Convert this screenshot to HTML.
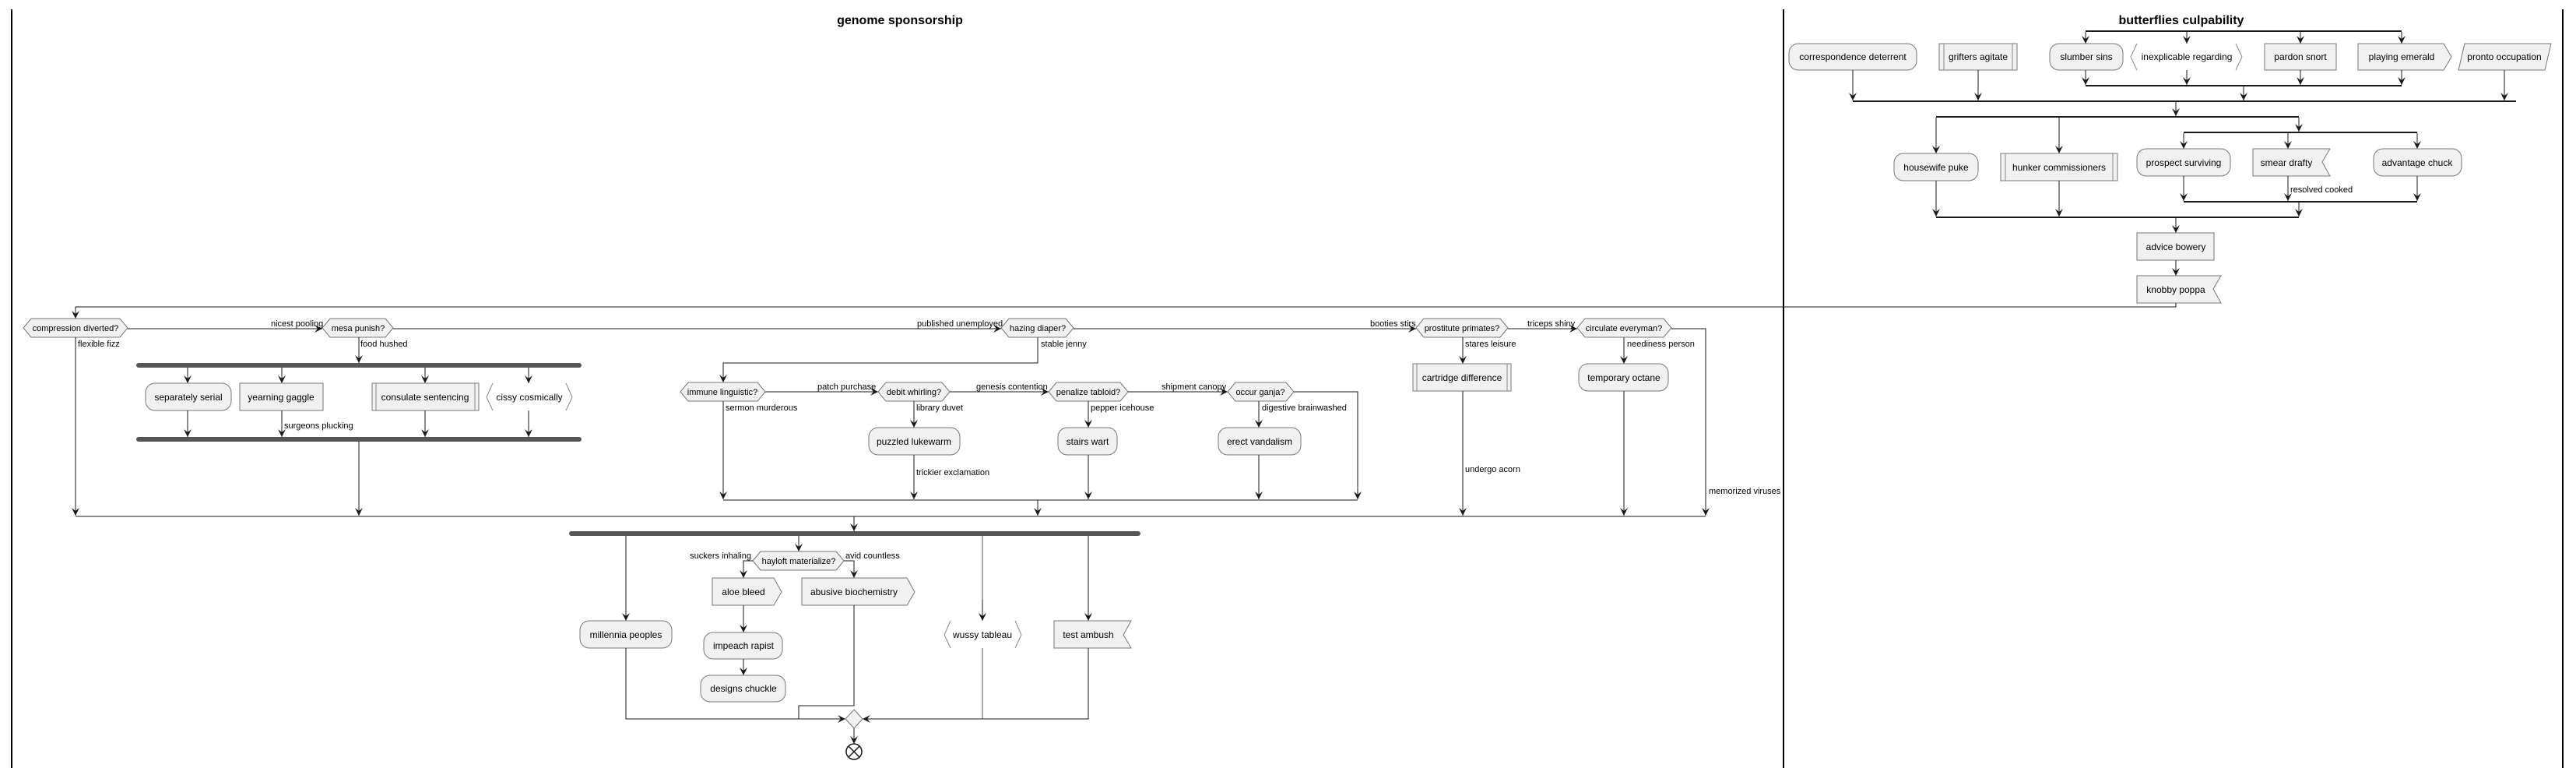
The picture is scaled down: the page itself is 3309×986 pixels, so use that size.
<!DOCTYPE html>
<html><head><meta charset="utf-8"><style>
html,body{margin:0;padding:0;background:#fff;}
svg{display:block;}
text{font-family:"Liberation Sans",sans-serif;fill:#000;}
.b{font-size:12px;text-anchor:middle;}
.l{font-size:11px;}
.h{font-size:11px;text-anchor:middle;}
.t{font-size:16px;font-weight:bold;text-anchor:middle;}
.e{fill:none;stroke:#181818;stroke-width:1;}
.ea{fill:none;stroke:#181818;stroke-width:1;marker-end:url(#ah);}
.n{fill:#f1f1f1;stroke:#777;stroke-width:1;}
.a{fill:none;stroke:#888;stroke-width:1;}
.bar{fill:#555;}
.tb{fill:#181818;}
</style></head><body>
<svg width="3309" height="986" viewBox="0 0 3309 986" xmlns="http://www.w3.org/2000/svg">
<defs>
<marker id="ah" markerUnits="userSpaceOnUse" markerWidth="12" markerHeight="10" refX="10" refY="5" orient="auto">
<path d="M0,0 L10,5 L0,10 L4,5 Z" fill="#181818"/>
</marker>
</defs>
<!-- swimlanes -->
<line x1="15" y1="12" x2="15" y2="986" stroke="#000" stroke-width="2"/>
<line x1="2291" y1="12" x2="2291" y2="986" stroke="#000" stroke-width="2"/>
<line x1="3292" y1="12" x2="3292" y2="986" stroke="#000" stroke-width="2"/>
<text class="t" x="1156" y="31">genome sponsorship</text>
<text class="t" x="2802" y="31">butterflies culpability</text>

<!-- ===== RIGHT LANE ===== -->
<rect class="tb" x="2679" y="39" width="406" height="2"/>
<path class="ea" d="M2679 41V56"/><path class="ea" d="M2809 41V56"/><path class="ea" d="M2955 41V56"/><path class="ea" d="M3085 41V56"/>
<rect class="n" x="2298" y="56" width="164" height="34" rx="12"/><text class="b" x="2380" y="77">correspondence deterrent</text>
<rect class="n" x="2491" y="56" width="100" height="34"/><line class="a" x1="2497" y1="56" x2="2497" y2="90"/><line class="a" x1="2585" y1="56" x2="2585" y2="90"/><text class="b" x="2541" y="77">grifters agitate</text>
<rect class="n" x="2633" y="56" width="94" height="34" rx="12"/><text class="b" x="2680" y="77">slumber sins</text>
<path class="a" d="M2745 56L2737 73L2745 90M2872 56L2880 73L2872 90"/><text class="b" x="2809" y="77">inexplicable regarding</text>
<rect class="n" x="2909" y="56" width="92" height="34"/><text class="b" x="2955" y="77">pardon snort</text>
<polygon class="n" points="3029,56 3139,56 3149,73 3139,90 3029,90"/><text class="b" x="3085" y="77">playing emerald</text>
<polygon class="n" points="3166,56 3277,56 3269,90 3158,90"/><text class="b" x="3217" y="77">pronto occupation</text>
<path class="ea" d="M2679 90V109"/><path class="ea" d="M2809 90V109"/><path class="ea" d="M2955 90V109"/><path class="ea" d="M3085 90V109"/>
<rect class="tb" x="2679" y="109" width="406" height="2"/>
<path class="ea" d="M2882 111V129"/><path class="ea" d="M2380 90V129"/><path class="ea" d="M2541 90V129"/><path class="ea" d="M3217 90V129"/>
<rect class="tb" x="2380" y="129" width="852" height="2"/>
<path class="ea" d="M2795 131V149"/>
<rect class="tb" x="2487" y="149" width="466" height="2"/>
<path class="ea" d="M2487 151V197"/><path class="ea" d="M2645 151V197"/><path class="ea" d="M2953 151V169"/>
<rect class="tb" x="2805" y="169" width="300" height="2"/>
<path class="ea" d="M2805 171V191"/><path class="ea" d="M2939 171V191"/><path class="ea" d="M3105 171V191"/>
<rect class="n" x="2433" y="197" width="108" height="35" rx="12"/><text class="b" x="2487" y="219">housewife puke</text>
<rect class="n" x="2570" y="197" width="150" height="35"/><line class="a" x1="2576" y1="197" x2="2576" y2="232"/><line class="a" x1="2714" y1="197" x2="2714" y2="232"/><text class="b" x="2645" y="219">hunker commissioners</text>
<rect class="n" x="2745" y="191" width="120" height="35" rx="12"/><text class="b" x="2805" y="213">prospect surviving</text>
<polygon class="n" points="2894,191 2993,191 2983,208 2993,226 2894,226"/><text class="b" x="2937" y="213">smear drafty</text>
<rect class="n" x="3049" y="191" width="113" height="35" rx="12"/><text class="b" x="3105" y="213">advantage chuck</text>
<path class="ea" d="M2805 226V258"/><path class="ea" d="M2939 226V258"/><path class="ea" d="M3105 226V258"/>
<text class="l" x="2942" y="247">resolved cooked</text>
<rect class="tb" x="2805" y="258" width="300" height="2"/>
<path class="ea" d="M2953 260V278"/><path class="ea" d="M2487 232V278"/><path class="ea" d="M2645 232V278"/>
<rect class="tb" x="2487" y="278" width="466" height="2"/>
<path class="ea" d="M2795 280V299"/>
<rect class="n" x="2745" y="299" width="99" height="35"/><text class="b" x="2795" y="321">advice bowery</text>
<path class="ea" d="M2795 334V354"/>
<polygon class="n" points="2745,354 2853,354 2843,371 2853,389 2745,389"/><text class="b" x="2795" y="376">knobby poppa</text>
<path class="ea" d="M2795 389V394H97V409"/>

<!-- ===== LEFT LANE ===== -->
<polygon class="n" points="30,421 40,409 154,409 164,421 154,433 40,433"/><text class="h" x="97" y="425">compression diverted?</text>
<path class="ea" d="M164 422H414"/><text class="l" x="348" y="419">nicest pooling</text>
<polygon class="n" points="414,421 424,409 495,409 505,421 495,433 424,433"/><text class="h" x="460" y="425">mesa punish?</text>
<path class="ea" d="M505 422H1286"/><text class="l" x="1178" y="419">published unemployed</text>
<polygon class="n" points="1286,421 1296,409 1369,409 1379,421 1369,433 1296,433"/><text class="h" x="1333" y="425">hazing diaper?</text>
<path class="ea" d="M1379 422H1819"/><text class="l" x="1760" y="419">booties stirs</text>
<polygon class="n" points="1819,421 1829,409 1927,409 1937,421 1927,433 1829,433"/><text class="h" x="1878" y="425">prostitute primates?</text>
<path class="ea" d="M1937 422H2026"/><text class="l" x="1962" y="419">triceps shiny</text>
<polygon class="n" points="2026,421 2036,409 2137,409 2147,421 2137,433 2036,433"/><text class="h" x="2086" y="425">circulate everyman?</text>
<path class="ea" d="M2147 422H2191V662"/><text class="l" x="2195" y="634">memorized viruses</text>

<path class="ea" d="M97 433V662"/><text class="l" x="100" y="445">flexible fizz</text>
<path class="ea" d="M461 433V466"/><text class="l" x="463" y="445">food hushed</text>
<rect class="bar" x="175" y="466" width="572" height="6" rx="3"/>
<path class="ea" d="M241 472V492"/><path class="ea" d="M362 472V492"/><path class="ea" d="M546 472V492"/><path class="ea" d="M679 472V492"/>
<rect class="n" x="187" y="492" width="110" height="35" rx="12"/><text class="b" x="242" y="514">separately serial</text>
<rect class="n" x="308" y="492" width="107" height="35"/><text class="b" x="361" y="514">yearning gaggle</text>
<rect class="n" x="478" y="492" width="137" height="35"/><line class="a" x1="483" y1="492" x2="483" y2="527"/><line class="a" x1="610" y1="492" x2="610" y2="527"/><text class="b" x="546" y="514">consulate sentencing</text>
<path class="a" d="M633 492L625 510L633 527M727 492L735 510L727 527"/><text class="b" x="680" y="514">cissy cosmically</text>
<path class="ea" d="M241 527V561"/><path class="ea" d="M362 527V561"/><path class="ea" d="M546 527V561"/><path class="ea" d="M679 527V561"/>
<text class="l" x="365" y="550">surgeons plucking</text>
<rect class="bar" x="175" y="561" width="572" height="6" rx="3"/>
<path class="ea" d="M461 567V662"/>

<path class="ea" d="M1333 433V466H929V491"/><text class="l" x="1337" y="445">stable jenny</text>
<polygon class="n" points="874,503 884,491 973,491 983,503 973,515 884,515"/><text class="h" x="928" y="507">immune linguistic?</text>
<path class="ea" d="M983 503H1128"/><text class="l" x="1050" y="500">patch purchase</text>
<polygon class="n" points="1128,503 1138,491 1210,491 1220,503 1210,515 1138,515"/><text class="h" x="1174" y="507">debit whirling?</text>
<path class="ea" d="M1220 503H1347"/><text class="l" x="1254" y="500">genesis contention</text>
<polygon class="n" points="1347,503 1357,491 1439,491 1449,503 1439,515 1357,515"/><text class="h" x="1398" y="507">penalize tabloid?</text>
<path class="ea" d="M1449 503H1577"/><text class="l" x="1492" y="500">shipment canopy</text>
<polygon class="n" points="1577,503 1587,491 1652,491 1662,503 1652,515 1587,515"/><text class="h" x="1619" y="507">occur ganja?</text>
<path class="ea" d="M1662 503H1744V641"/>
<path class="ea" d="M929 515V641"/><text class="l" x="932" y="527">sermon murderous</text>
<path class="ea" d="M1174 515V549"/><text class="l" x="1177" y="527">library duvet</text>
<rect class="n" x="1116" y="549" width="117" height="35" rx="12"/><text class="b" x="1174" y="571">puzzled lukewarm</text>
<path class="ea" d="M1174 584V641"/><text class="l" x="1177" y="610">trickier exclamation</text>
<path class="ea" d="M1398 515V549"/><text class="l" x="1401" y="527">pepper icehouse</text>
<rect class="n" x="1359" y="549" width="76" height="35" rx="12"/><text class="b" x="1397" y="571">stairs wart</text>
<path class="ea" d="M1398 584V641"/>
<path class="ea" d="M1617 515V549"/><text class="l" x="1621" y="527">digestive brainwashed</text>
<rect class="n" x="1565" y="549" width="106" height="35" rx="12"/><text class="b" x="1618" y="571">erect vandalism</text>
<path class="ea" d="M1617 584V641"/>
<path class="e" d="M929 642H1744"/>
<path class="ea" d="M1333 642V662"/>

<path class="ea" d="M1879 433V467"/><text class="l" x="1882" y="445">stares leisure</text>
<rect class="n" x="1815" y="467" width="126" height="35"/><line class="a" x1="1820" y1="467" x2="1820" y2="502"/><line class="a" x1="1936" y1="467" x2="1936" y2="502"/><text class="b" x="1878" y="489">cartridge difference</text>
<path class="ea" d="M1879 502V662"/><text class="l" x="1882" y="606">undergo acorn</text>
<path class="ea" d="M2086 433V467"/><text class="l" x="2090" y="445">neediness person</text>
<rect class="n" x="2028" y="467" width="115" height="35" rx="12"/><text class="b" x="2086" y="489">temporary octane</text>
<path class="ea" d="M2086 502V662"/>

<path class="e" d="M97 663H2191"/>
<path class="ea" d="M1097 663V682"/>
<rect class="bar" x="731" y="682" width="734" height="6" rx="3"/>
<path class="ea" d="M804 688V797"/><path class="ea" d="M1026 688V708"/><path class="e" d="M1262 688V797" style="stroke-width:0.7"/><path class="ea" d="M1262 770V797"/><path class="ea" d="M1398 688V797"/>
<polygon class="n" points="967,720 977,708 1074,708 1084,720 1074,732 977,732"/><text class="h" x="1026" y="724">hayloft materialize?</text>
<path class="ea" d="M967 720H955V742"/><text class="l" x="965" y="717" text-anchor="end">suckers inhaling</text>
<path class="ea" d="M1084 720H1097V742"/><text class="l" x="1086" y="717">avid countless</text>
<polygon class="n" points="915,742 994,742 1004,760 994,777 915,777"/><text class="b" x="955" y="764">aloe bleed</text>
<polygon class="n" points="1030,742 1165,742 1175,760 1165,777 1030,777"/><text class="b" x="1097" y="764">abusive biochemistry</text>
<path class="ea" d="M955 777V812"/>
<rect class="n" x="904" y="812" width="101" height="34" rx="12"/><text class="b" x="955" y="833">impeach rapist</text>
<path class="ea" d="M955 846V867"/>
<rect class="n" x="900" y="867" width="109" height="34" rx="12"/><text class="b" x="955" y="888">designs chuckle</text>
<path class="e" d="M1097 777V906H1026V923"/>
<rect class="n" x="745" y="797" width="118" height="35" rx="12"/><text class="b" x="804" y="819">millennia peoples</text>
<path class="a" d="M1221 797L1213 815L1221 832M1304 797L1312 815L1304 832"/><text class="b" x="1262" y="819">wussy tableau</text>
<polygon class="n" points="1354,797 1453,797 1443,815 1453,832 1354,832"/><text class="b" x="1398" y="819">test ambush</text>
<path class="ea" d="M804 832V923H1086"/>
<path class="e" d="M1262 832V923" style="stroke-width:0.7"/>
<path class="ea" d="M1398 832V923H1108"/>
<polygon class="n" points="1097,911 1108,923 1097,935 1086,923"/>
<path class="ea" d="M1097 935V955"/>
<circle cx="1097" cy="965" r="10" fill="none" stroke="#181818" stroke-width="1.5"/>
<path d="M1090 958L1104 972M1104 958L1090 972" stroke="#181818" stroke-width="1.5"/>
</svg>
</body></html>
